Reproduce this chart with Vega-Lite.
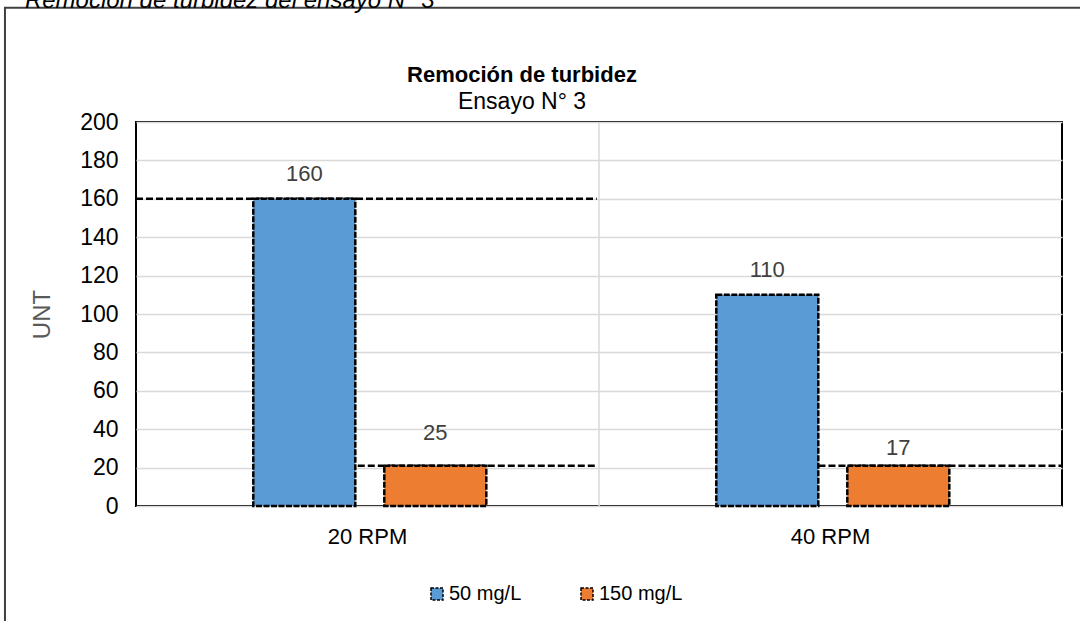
{
  "$schema": "https://vega.github.io/schema/vega-lite/v6.json",
  "width": 926,
  "height": 384,
  "autosize": {"type": "none"},
  "padding": {"left": 136, "top": 122, "right": 18, "bottom": 115},
  "background": "white",
  "title": {
    "text": "Remoción de turbidez",
    "subtitle": "Ensayo N° 3",
    "anchor": "middle",
    "frame": "group",
    "dx": -77,
    "offset": -126,
    "font": "Liberation Sans",
    "fontSize": 22,
    "fontWeight": "bold",
    "color": "black",
    "subtitleFont": "Liberation Sans",
    "subtitleFontSize": 23,
    "subtitleColor": "black",
    "subtitlePadding": 4
  },
  "config": {
    "font": "Liberation Sans",
    "view": {"stroke": "black", "strokeWidth": 2},
    "axisY": {
      "grid": true,
      "gridColor": "#d9d9d9",
      "gridWidth": 1.5,
      "domain": false,
      "ticks": false,
      "labelFont": "Liberation Sans",
      "labelFontSize": 23,
      "labelColor": "black",
      "labelPadding": 18,
      "tickCount": 10,
      "titleFont": "Liberation Sans",
      "titleFontSize": 24,
      "titleFontWeight": "normal",
      "titleColor": "#595959",
      "titlePadding": 25
    },
    "axisX": {
      "grid": false,
      "domain": false,
      "ticks": false,
      "labelFont": "Liberation Sans",
      "labelFontSize": 22,
      "labelColor": "black",
      "labelPadding": 20,
      "labelAngle": 0
    }
  },
  "datasets": {
    "barras": [
      {"rpm": "20 RPM", "dosis": "50 mg/L", "unt": 160, "etiqueta": "160", "valorEtiqueta": 160},
      {"rpm": "20 RPM", "dosis": "150 mg/L", "unt": 21, "etiqueta": "25", "valorEtiqueta": 25},
      {"rpm": "40 RPM", "dosis": "50 mg/L", "unt": 110, "etiqueta": "110", "valorEtiqueta": 110},
      {"rpm": "40 RPM", "dosis": "150 mg/L", "unt": 21, "etiqueta": "17", "valorEtiqueta": 17}
    ],
    "referencias": [
      {"desde": 0, "hasta": 0.995, "unt": 160},
      {"desde": 0.479, "hasta": 0.995, "unt": 21},
      {"desde": 1.474, "hasta": 2, "unt": 21}
    ]
  },
  "layer": [
    {
      "data": {"values": [{}]},
      "mark": {"type": "rect", "fill": "transparent", "stroke": "#404040", "strokeWidth": 2},
      "encoding": {
        "x": {"datum": -0.283, "type": "quantitative", "scale": {"domain": [0, 2], "nice": false, "zero": false}, "axis": null},
        "x2": {"datum": 2.2},
        "y": {"datum": -70, "type": "quantitative", "scale": {"domain": [0, 200], "nice": false}, "title": "UNT"},
        "y2": {"datum": 259.5}
      }
    },
    {
      "data": {"values": [{}]},
      "mark": {"type": "rule", "color": "#d9d9d9", "strokeWidth": 1.5},
      "encoding": {
        "x": {"datum": 1, "type": "quantitative", "scale": {"domain": [0, 2], "nice": false, "zero": false}, "axis": null},
        "y": {"datum": 0, "type": "quantitative", "scale": {"domain": [0, 200], "nice": false}, "title": "UNT"},
        "y2": {"datum": 200}
      }
    },
    {
      "data": {"values": [{"texto": "Remoción de turbidez del ensayo N° 3"}]},
      "mark": {"type": "text", "align": "left", "baseline": "alphabetic", "font": "Liberation Sans", "fontStyle": "italic", "fontSize": 24, "color": "black"},
      "encoding": {
        "x": {"datum": -0.24, "type": "quantitative", "scale": {"domain": [0, 2], "nice": false, "zero": false}, "axis": null},
        "y": {"datum": 259.5, "type": "quantitative", "scale": {"domain": [0, 200], "nice": false}, "title": "UNT"},
        "text": {"field": "texto"}
      }
    },
    {
      "data": {"name": "referencias"},
      "mark": {"type": "rule", "color": "black", "strokeWidth": 2.5, "strokeDash": [7, 3]},
      "encoding": {
        "x": {"field": "desde", "type": "quantitative", "scale": {"domain": [0, 2], "nice": false, "zero": false}, "axis": null},
        "x2": {"field": "hasta"},
        "y": {"field": "unt", "type": "quantitative", "scale": {"domain": [0, 200], "nice": false}, "title": "UNT"}
      }
    },
    {
      "data": {"name": "barras"},
      "mark": {"type": "bar", "stroke": "black", "strokeWidth": 2.5, "strokeDash": [6, 1.5]},
      "encoding": {
        "x": {"field": "rpm", "type": "nominal", "scale": {"paddingInner": 0, "paddingOuter": 0}, "axis": {"title": null}},
        "xOffset": {"field": "dosis", "type": "nominal", "sort": ["50 mg/L", "150 mg/L"], "scale": {"paddingInner": 0.2214, "paddingOuter": 0.8778, "align": 0.51}},
        "y": {"field": "unt", "type": "quantitative", "scale": {"domain": [0, 200], "nice": false}, "title": "UNT"},
        "color": {
          "field": "dosis",
          "type": "nominal",
          "sort": ["50 mg/L", "150 mg/L"],
          "scale": {"domain": ["50 mg/L", "150 mg/L"], "range": ["#5b9bd5", "#ed7d31"]},
          "legend": {
            "title": null,
            "orient": "none",
            "legendX": 291,
            "legendY": 462,
            "direction": "horizontal",
            "labelFont": "Liberation Sans",
            "labelFontSize": 20,
            "labelColor": "black",
            "symbolType": "square",
            "symbolSize": 144,
            "symbolStrokeColor": "black",
            "symbolStrokeWidth": 1.5,
            "symbolDash": [3, 1.5],
            "columnPadding": 55,
            "labelOffset": 2
          }
        }
      }
    },
    {
      "data": {"name": "barras"},
      "mark": {"type": "text", "baseline": "middle", "dy": -25, "font": "Liberation Sans", "fontSize": 22, "color": "#404040"},
      "encoding": {
        "x": {"field": "rpm", "type": "nominal", "scale": {"paddingInner": 0, "paddingOuter": 0}, "axis": null},
        "xOffset": {"field": "dosis", "type": "nominal", "sort": ["50 mg/L", "150 mg/L"], "scale": {"paddingInner": 0.2214, "paddingOuter": 0.8778, "align": 0.51}},
        "y": {"field": "valorEtiqueta", "type": "quantitative", "scale": {"domain": [0, 200], "nice": false}, "title": "UNT"},
        "text": {"field": "etiqueta"}
      }
    }
  ],
  "resolve": {"scale": {"x": "independent"}}
}
